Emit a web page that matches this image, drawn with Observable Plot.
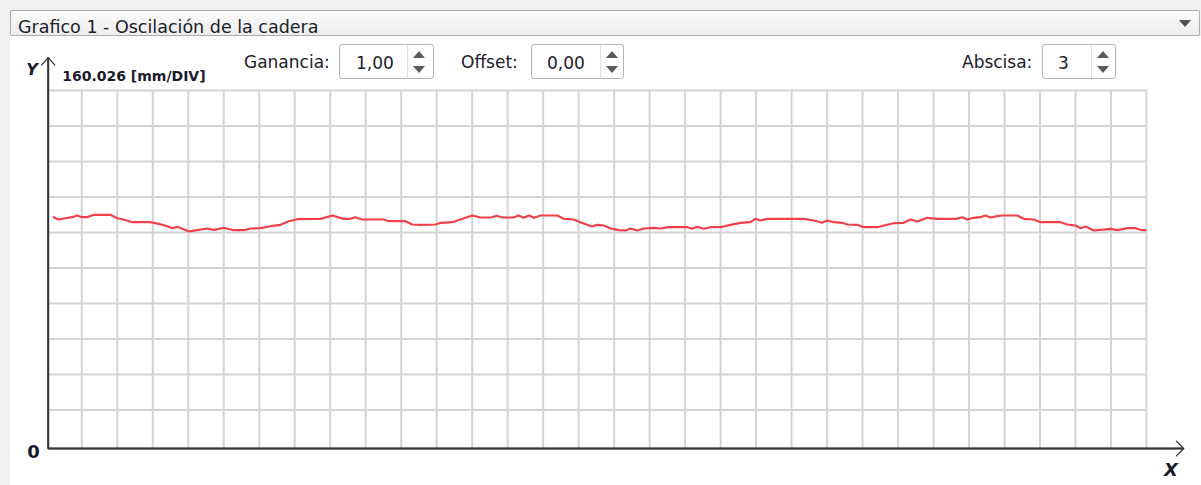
<!DOCTYPE html>
<html>
<head>
<meta charset="utf-8">
<script src="https://cdn.jsdelivr.net/npm/d3@7"></script>
<script src="https://cdn.jsdelivr.net/npm/@observablehq/plot@0.6"></script>
<style>
html,body{margin:0;padding:0;background:#f0f0f0;}
#root{position:relative;width:1201px;height:485px;overflow:hidden;font-family:"DejaVu Sans",sans-serif;color:#20202a;}
#panel{position:absolute;left:10px;top:36px;right:0;bottom:0;background:#fff;}
#combo{position:absolute;left:10px;top:10px;width:1188px;height:24px;border:1px solid #acacac;border-radius:2px;background:linear-gradient(#fafafa,#eeeeee);}
#combo .t{position:absolute;left:7px;top:7.5px;font-size:17.5px;line-height:1;white-space:nowrap;}
#combo .arr{position:absolute;left:1168px;top:9px;width:0;height:0;border-left:6.5px solid transparent;border-right:6.5px solid transparent;border-top:7px solid #505050;}
.lbl{position:absolute;font-size:17px;line-height:1;white-space:nowrap;}
.spin{position:absolute;top:44px;height:35px;border:1px solid #b4b4b4;border-radius:3px;background:#fff;box-sizing:border-box;}
.spin .v{position:absolute;top:9.5px;font-size:17px;line-height:1;white-space:nowrap;}
.spin .sep{position:absolute;top:0;bottom:0;width:1px;background:#e0e0e0;}
.spin .up{position:absolute;top:6px;width:0;height:0;border-left:6.5px solid transparent;border-right:6.5px solid transparent;border-bottom:7px solid #5a5a5a;}
.spin .dn{position:absolute;top:21px;width:0;height:0;border-left:6.5px solid transparent;border-right:6.5px solid transparent;border-top:7px solid #5a5a5a;}
#chart{position:absolute;left:0;top:40px;}
</style>
</head>
<body>
<div id="root">
  <div id="panel"></div>
  <div id="combo"><span class="t" id="title"></span><span class="arr"></span></div>
  <div id="controls"></div>
  <div id="chart"></div>
</div>
<script>
// ---- data ----
const title = "Grafico 1 - Oscilación de la cadera";
const scaleLabel = "160.026 [mm/DIV]";
const DIV = 160.026;          // mm per division
const NX = 31;                // x divisions
const controlLabels = ["Ganancia:", "Offset:", "Abscisa:"];
const controlValues = ["1,00", "0,00", "3"];

// x in divisions, y in mm
const xs = [0.21,0.35,0.54,0.73,0.87,1.01,1.15,1.34,1.81,2.00,2.18,2.42,2.94,3.17,3.41,3.55,3.69,3.83,4.02,4.25,
4.53,4.72,5.00,5.28,5.57,5.75,6.04,6.32,6.60,6.83,7.07,7.73,8.06,8.38,8.57,8.71,8.90,9.51,9.65,10.12,
10.31,10.54,10.97,11.11,11.44,11.67,12.00,12.24,12.52,12.69,12.85,13.17,13.31,13.45,13.60,13.74,13.93,14.40,14.58,14.86,
15.05,15.24,15.38,15.52,15.71,15.90,16.13,16.32,16.46,16.65,16.84,17.12,17.31,17.54,18.06,18.20,18.34,18.53,18.72,19.05,
19.28,19.56,19.84,19.98,20.12,20.31,20.97,21.34,21.63,21.86,22.00,22.19,22.43,22.57,22.85,23.04,23.41,23.60,23.88,24.16,
24.35,24.54,24.82,25.10,25.62,25.81,25.95,26.13,26.32,26.46,26.61,26.79,26.93,27.36,27.54,27.83,28.01,28.58,28.77,29.00,
29.14,29.28,29.52,29.70,29.99,30.18,30.46,30.69,30.83,30.97];
const ys = [1042.7,1032.3,1038.1,1042.7,1050.3,1042.7,1042.7,1053.5,1053.5,1038.1,1032.3,1020.1,1020.1,1012.9,1002.1,993.1,999.4,990.4,978.2,984.1,
991.7,985.9,994.9,984.1,984.1,991.7,993.1,1002.1,1008.4,1024.6,1033.6,1035.4,1050.3,1035.4,1035.4,1042.7,1032.3,1032.3,1024.6,1024.6,
1009.7,1008.4,1009.7,1017.4,1020.1,1032.3,1050.3,1041.3,1041.3,1049.0,1041.3,1041.3,1050.3,1040.0,1050.3,1040.0,1050.3,1050.3,1035.4,1032.3,
1020.1,1008.4,1000.7,1008.4,1005.2,991.7,984.1,982.7,991.7,982.7,991.7,994.9,991.7,997.6,997.6,990.4,999.4,990.4,997.6,999.4,
1008.4,1017.4,1020.1,1035.4,1027.8,1035.4,1035.4,1035.4,1027.8,1017.4,1027.8,1020.1,1017.4,1009.7,1008.4,997.6,997.6,1005.2,1015.6,1017.4,
1032.3,1023.3,1040.0,1035.4,1035.4,1042.7,1032.3,1040.0,1042.7,1050.3,1041.3,1047.2,1050.3,1050.3,1035.4,1032.3,1020.1,1020.1,1009.7,1005.2,
993.1,1000.7,982.7,985.9,990.4,984.1,993.1,993.1,985.9,984.1];

// ---- header widgets ----
document.getElementById("title").textContent = title;
const ctrl = document.getElementById("controls");
const lblPos = [244, 461, 962];
const boxes = [{l:339,w:95,sep:67,tx:16},{l:531,w:93,sep:68,tx:15},{l:1042,w:74,sep:48,tx:15}];
controlLabels.forEach((t,i)=>{
  const s = document.createElement("span");
  s.className = "lbl"; s.textContent = t;
  s.style.left = lblPos[i] + "px"; s.style.top = "54.3px";
  ctrl.appendChild(s);
  const b = boxes[i];
  const box = document.createElement("div");
  box.className = "spin"; box.style.left = b.l + "px"; box.style.width = b.w + "px";
  box.innerHTML = `<span class="v" style="left:${b.tx}px">${controlValues[i]}</span>
    <span class="sep" style="left:${b.sep}px"></span>
    <span class="up" style="left:${b.sep + 6}px"></span>
    <span class="dn" style="left:${b.sep + 6}px"></span>`;
  ctrl.appendChild(box);
});

// ---- chart ----
const data = xs.map((x, i) => ({x, y: ys[i]}));
const Y_DIVS = 10.085;                 // visible divisions above the zero axis
const yTop = Y_DIVS * DIV;
const gridY = d3.range(10).map(k => (Y_DIVS - k) * DIV);
const gridX = d3.range(1, NX + 1);
const axisX = 0.054;
const yTip = 11.01 * DIV;
const xTip = 32.05;
const font = "DejaVu Sans";

const chart = Plot.plot({
  width: 1201,
  height: 445,
  marginLeft: 45.8,
  marginRight: 55,
  marginTop: 50,
  marginBottom: 37,
  x: {domain: [0, NX], axis: null},
  y: {domain: [0, yTop], axis: null},
  style: {background: "transparent", overflow: "visible", fontFamily: font},
  marks: [
    Plot.ruleX(gridX, {y1: 0, y2: yTop, stroke: "#d3d3d3", strokeWidth: 2}),
    Plot.ruleY(gridY, {x1: axisX, x2: NX, stroke: "#d3d3d3", strokeWidth: 2}),
    Plot.line(data, {x: "x", y: "y", stroke: "#f2404a", strokeWidth: 2.2, strokeLinejoin: "round"}),
    Plot.ruleX([axisX], {y1: 0, y2: yTip, stroke: "#353535", strokeWidth: 2}),
    Plot.ruleY([0], {x1: axisX, x2: xTip, stroke: "#353535", strokeWidth: 2}),
    Plot.arrow([{x1: axisX, y1: 0, x2: axisX, y2: yTip}], {x1: "x1", y1: "y1", x2: "x2", y2: "y2", stroke: "#353535", strokeWidth: 1.3, headLength: 11.5, headAngle: 84}),
    Plot.arrow([{x1: axisX, y1: 0, x2: xTip, y2: 0}], {x1: "x1", y1: "y1", x2: "x2", y2: "y2", stroke: "#353535", strokeWidth: 1.3, headLength: 12, headAngle: 90}),
    Plot.text(["Y"], {text: d => d, frameAnchor: "top-left", dx: -14.3, dy: -15.5, textAnchor: "middle", lineAnchor: "bottom", fontSize: 16, fontWeight: "bold", fontStyle: "italic", fill: "#1a1a2a"}),
    Plot.text([scaleLabel], {text: d => d, frameAnchor: "top-left", dx: 15.9, dy: -9.3, textAnchor: "start", lineAnchor: "bottom", fontSize: 14, fontWeight: "bold", fill: "#1a1a2a"}),
    Plot.text(["0"], {text: d => d, frameAnchor: "bottom-left", dx: -12.8, dy: 9, textAnchor: "middle", lineAnchor: "bottom", fontSize: 18, fontWeight: "bold", fill: "#1a1a2a"}),
    Plot.text(["X"], {text: d => d, frameAnchor: "bottom-right", dx: 24.5, dy: 27, textAnchor: "middle", lineAnchor: "bottom", fontSize: 18, fontWeight: "bold", fontStyle: "italic", fill: "#1a1a2a"})
  ]
});
document.getElementById("chart").appendChild(chart);
</script>
</body>
</html>
